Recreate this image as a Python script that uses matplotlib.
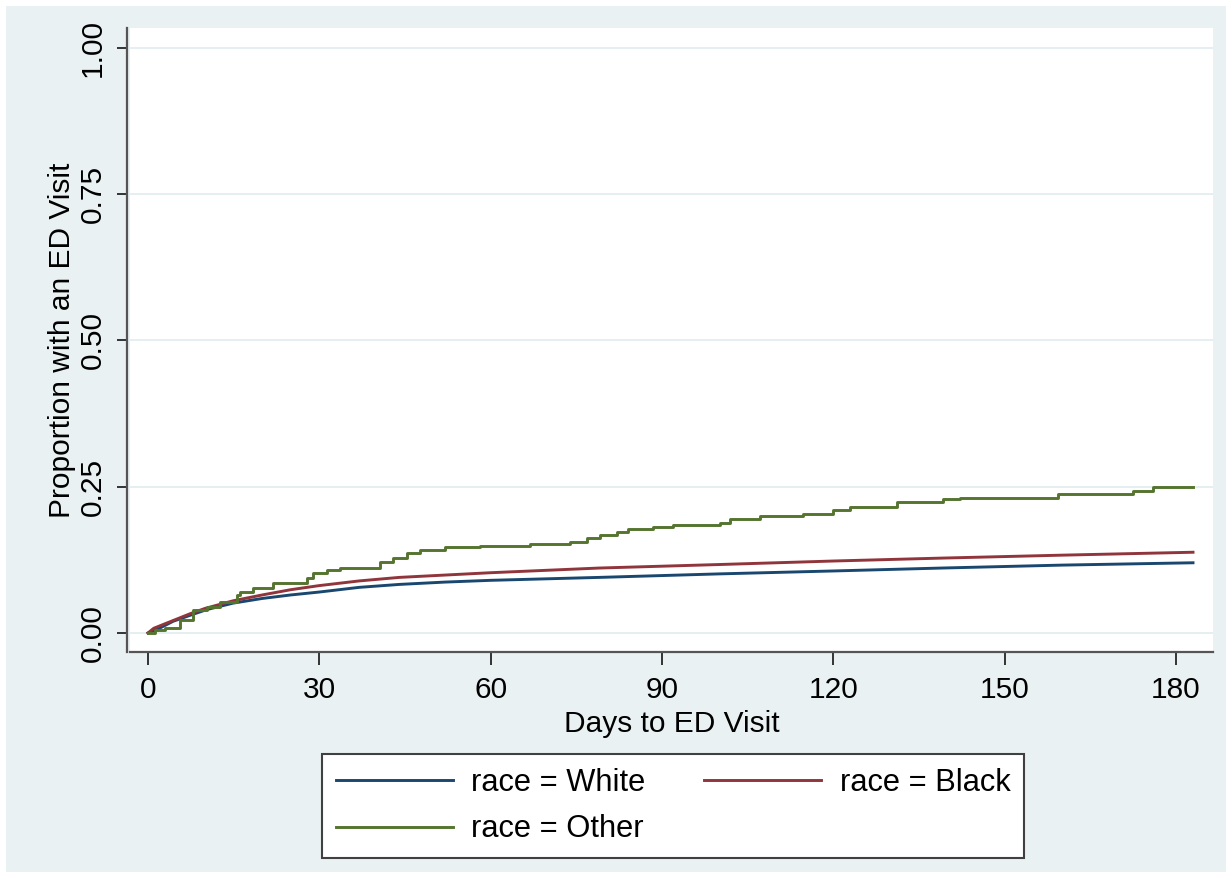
import matplotlib
matplotlib.use("Agg")
import matplotlib.pyplot as plt
from matplotlib.patches import Rectangle
from matplotlib.lines import Line2D

# ---- data ----
white_days = [0, 2, 4.4, 7.9, 10.3, 14.9, 20, 25, 30, 37, 44, 52, 60, 79, 100, 120, 139, 160, 183]
white_vals = [0, 0.008, 0.020, 0.032, 0.040, 0.051, 0.059, 0.065, 0.070, 0.078, 0.083, 0.087, 0.090,
              0.095, 0.101, 0.106, 0.111, 0.116, 0.120]

black_days = [0, 1, 3.3, 7.4, 10, 14.9, 20, 25, 30, 37, 44, 52, 60, 79, 100, 120, 139, 160, 183]
black_vals = [0, 0.008, 0.017, 0.033, 0.042, 0.055, 0.065, 0.074, 0.081, 0.089, 0.095, 0.099, 0.103,
              0.111, 0.117, 0.123, 0.128, 0.133, 0.138]

other_days = [0, 1.2, 3.0, 5.6, 7.9, 10.3, 12.6, 15.6, 16.1, 18.4, 21.9, 27.8, 28.9, 31.3, 33.6,
              40.6, 42.9, 45.4, 47.6, 52.0, 58.1, 66.9, 73.9, 76.9, 79.2, 82.1, 84.1, 88.4, 91.9,
              100.2, 101.9, 107.2, 114.7, 120.0, 122.9, 131.2, 139.2, 142.2, 159.4, 172.5, 176.0, 183.0]
other_vals = [0, 0.005, 0.009, 0.022, 0.039, 0.044, 0.053, 0.065, 0.070, 0.077, 0.085, 0.094, 0.103,
              0.108, 0.111, 0.121, 0.128, 0.137, 0.142, 0.147, 0.149, 0.152, 0.155, 0.162, 0.167,
              0.173, 0.178, 0.181, 0.184, 0.188, 0.195, 0.200, 0.203, 0.210, 0.215, 0.224, 0.229,
              0.231, 0.237, 0.243, 0.249, 0.249]

series_labels = ["race = White", "race = Black", "race = Other"]
x_ticks = [0, 30, 60, 90, 120, 150, 180]
y_ticks = [0, 0.25, 0.5, 0.75, 1.0]
y_tick_labels = ["0.00", "0.25", "0.50", "0.75", "1.00"]

# ---- style ----
plt.rcParams['font.family'] = ['Liberation Sans', 'DejaVu Sans']
FS = 21.5
BG = '#E9F1F3'
C_WHITE = '#1A476F'
C_BLACK = '#90353B'
C_OTHER = '#55752F'
AXC = '#555555'
LW = 2.1

W, H = 1230, 872
fig = plt.figure(figsize=(W / 100, H / 100), dpi=100, facecolor='white')
bg = Rectangle((6 / W, 0), (1226 - 6) / W, (H - 6) / H,
               transform=fig.transFigure, facecolor=BG, edgecolor='none', zorder=-10)
fig.add_artist(bg)

ax = fig.add_axes([130 / W, 1 - 652 / H, (1213 - 130) / W, (652 - 28) / H])
ax.set_zorder(1)
ax.set_facecolor('white')

ax.plot(white_days, white_vals, color=C_WHITE, lw=LW, zorder=3)
ax.plot(black_days, black_vals, color=C_BLACK, lw=LW, zorder=3)
ax.plot(other_days, other_vals, color=C_OTHER, lw=LW, drawstyle='steps-post', zorder=3)

ax.set_xlim(-3.15, 186.5)
ax.set_ylim(-0.0325, 1.034)

ax.set_xticks(x_ticks)
ax.set_yticks(y_ticks)
ax.set_yticklabels(y_tick_labels)

ax.grid(axis='y', color='#E3EEF1', lw=1.3, zorder=1)
ax.set_axisbelow(True)

for s in ['top', 'right']:
    ax.spines[s].set_visible(False)
for s in ['left', 'bottom']:
    ax.spines[s].set_color(AXC)
    ax.spines[s].set_linewidth(1.6)
ax.spines['left'].set_position(('outward', 2))

ax.tick_params(axis='y', direction='out', length=7, width=1.4, color='#333333',
               labelsize=FS, pad=8, labelrotation=90)
ax.tick_params(axis='x', direction='out', length=9, width=1.4, color='#333333',
               labelsize=FS, pad=8)
for lab in ax.get_yticklabels():
    lab.set_va('center')

ax.set_xlabel("Days to ED Visit", fontsize=FS, labelpad=4.5)
ax.set_ylabel("Proportion with an ED Visit", fontsize=FS, labelpad=1.5)

handles = [Line2D([], [], color=C_WHITE, lw=LW),
           Line2D([], [], color=C_BLACK, lw=LW),
           Line2D([], [], color=C_OTHER, lw=LW)]
# ordering so that rows read: White, Black / Other
order = [0, 2, 1]
leg = fig.legend([handles[i] for i in order], [series_labels[i] for i in order],
                 loc='center', bbox_to_anchor=(673 / W, 1 - 806 / H), ncol=2,
                 fontsize=22.2, frameon=True, fancybox=False, shadow=False,
                 handlelength=3.8, handletextpad=0.6, columnspacing=1.9,
                 labelspacing=0.55, borderpad=0.43)
fr = leg.get_frame()
fr.set_edgecolor('#404040')
fr.set_linewidth(1.5)
fr.set_facecolor('white')
fr.set_alpha(1)

fig.savefig('out.png', dpi=100, facecolor=fig.get_facecolor())
